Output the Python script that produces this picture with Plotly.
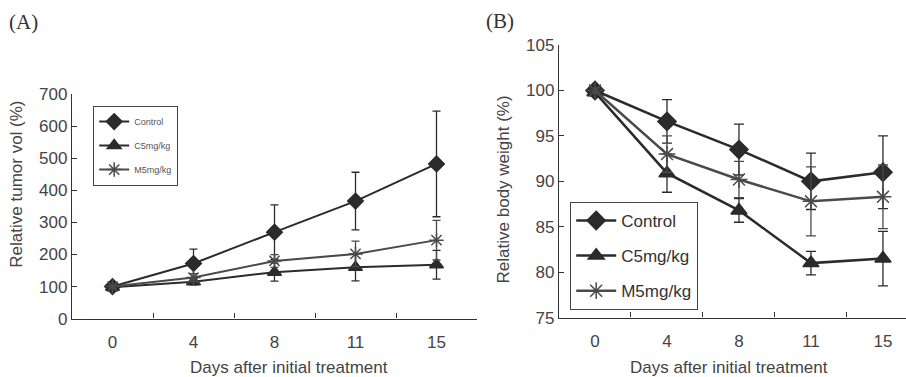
import plotly.graph_objects as go

days = ["0", "4", "8", "11", "15"]
series_names = ["Control", "C5mg/kg", "M5mg/kg"]

# Panel A: relative tumor volume (%)
tumor_control = [100, 172, 270, 367, 483]
tumor_control_err = [5, 45, 85, 90, 165]
tumor_c5 = [98, 115, 145, 160, 168]
tumor_c5_err = [5, 10, 28, 42, 45]
tumor_m5 = [100, 128, 180, 202, 245]
tumor_m5_err = [5, 12, 20, 40, 62]

# Panel B: relative body weight (%)
weight_control = [100, 96.6, 93.5, 90.0, 91.0]
weight_control_err = [0.3, 2.4, 2.8, 3.1, 4.0]
weight_c5 = [99.8, 90.9, 86.8, 81.0, 81.5]
weight_c5_err = [0.3, 2.1, 1.3, 1.3, 3.0]
weight_m5 = [100, 93.0, 90.2, 87.8, 88.3]
weight_m5_err = [0.3, 2.0, 2.0, 3.8, 3.5]

symbols = ["diamond", "triangle-up", "asterisk-open"]
line_colors = ["#2b2b2b", "#2b2b2b", "#4a4a4a"]

W, H = 906, 377
fig = go.Figure()

dataA = [(tumor_control, tumor_control_err), (tumor_c5, tumor_c5_err), (tumor_m5, tumor_m5_err)]
dataB = [(weight_control, weight_control_err), (weight_c5, weight_c5_err), (weight_m5, weight_m5_err)]

for i, (vals, err) in enumerate(dataA):
    fig.add_trace(go.Scatter(
        x=days, y=vals, name=series_names[i], mode="lines+markers",
        line=dict(color=line_colors[i], width=2),
        marker=dict(symbol=symbols[i], size=12, color=line_colors[i],
                    line=dict(color=line_colors[i], width=1.5)),
        error_y=dict(type="data", array=err, color=line_colors[i], thickness=1.3, width=4),
        xaxis="x", yaxis="y", legend="legend", legendgroup="a%d" % i,
    ))

for i, (vals, err) in enumerate(dataB):
    fig.add_trace(go.Scatter(
        x=days, y=vals, name=series_names[i], mode="lines+markers",
        line=dict(color=line_colors[i], width=2.5),
        marker=dict(symbol=symbols[i], size=14, color=line_colors[i],
                    line=dict(color=line_colors[i], width=1.5)),
        error_y=dict(type="data", array=err, color=line_colors[i], thickness=1.3, width=5),
        xaxis="x2", yaxis="y2", legend="legend2", legendgroup="b%d" % i,
    ))

tickfont = dict(family="Liberation Sans, Arial", size=17, color="#444")
axis_common = dict(showline=True, linecolor="#333", linewidth=1.3, ticks="inside",
                   ticklen=5, tickcolor="#333", showgrid=False, zeroline=False,
                   tickfont=tickfont)

fig.update_layout(
    width=W, height=H, margin=dict(l=0, r=0, t=0, b=0),
    plot_bgcolor="white", paper_bgcolor="white", showlegend=True,
    xaxis=dict(domain=[72 / W, 477 / W], type="category", range=[-0.5, 4.5],
               tickson="boundaries", anchor="y", ticklabelstandoff=8, **axis_common),
    yaxis=dict(domain=[(H - 326) / H, (H - 90) / H], range=[0, 700],
               tickvals=[0, 100, 200, 300, 400, 500, 600, 700], anchor="x", **axis_common),
    xaxis2=dict(domain=[559 / W, 1.0], type="category", range=[-0.5, 4.32],
                tickson="boundaries", anchor="y2", ticklabelstandoff=8, **axis_common),
    yaxis2=dict(domain=[(H - 325) / H, (H - 38) / H], range=[75, 105],
                tickvals=[75, 80, 85, 90, 95, 100, 105], anchor="x2", **axis_common),
    legend=dict(x=93 / W, y=1 - 102 / H, xanchor="left", yanchor="top",
                bordercolor="#444", borderwidth=1.2, bgcolor="white",
                font=dict(family="Liberation Sans, Arial", size=9, color="#555"),
                traceorder="grouped", tracegroupgap=5, itemwidth=30),
    legend2=dict(x=570 / W, y=1 - 203 / H, xanchor="left", yanchor="top",
                 bordercolor="#444", borderwidth=1.2, bgcolor="white",
                 font=dict(family="Liberation Sans, Arial", size=17, color="#333"),
                 traceorder="grouped", tracegroupgap=10, itemwidth=40),
    annotations=[
        dict(text="(A)", x=7, y=14, showarrow=False,
             font=dict(family="Liberation Serif, Times New Roman", size=21, color="#333")),
        dict(text="(B)", x=484, y=13, showarrow=False,
             font=dict(family="Liberation Serif, Times New Roman", size=21, color="#333")),
        dict(text="Relative tumor vol (%)", x=17, y=185, showarrow=False, textangle=-90,
             font=dict(family="Liberation Sans, Arial", size=17, color="#444")),
        dict(text="Relative body weight (%)", x=503, y=190, showarrow=False, textangle=-90,
             font=dict(family="Liberation Sans, Arial", size=17, color="#444")),
        dict(text="Days after initial treatment", x=289, y=377, showarrow=False,
             font=dict(family="Liberation Sans, Arial", size=17, color="#444")),
        dict(text="Days after initial treatment", x=729, y=377, showarrow=False,
             font=dict(family="Liberation Sans, Arial", size=17, color="#444")),
    ],
)

# convert pixel positions of annotations to paper coordinates
anns = list(fig.layout.annotations)
for a in anns:
    a.xref = "paper"
    a.yref = "paper"
    px, py = a.x, a.y
    a.x = px / W
    a.y = 1 - py / H
    if a.text in ("(A)", "(B)"):
        a.xanchor = "left"
        a.yanchor = "middle"
    else:
        a.xanchor = "center"
        a.yanchor = "middle"
fig.layout.annotations = anns

fig.write_html("out.html")
